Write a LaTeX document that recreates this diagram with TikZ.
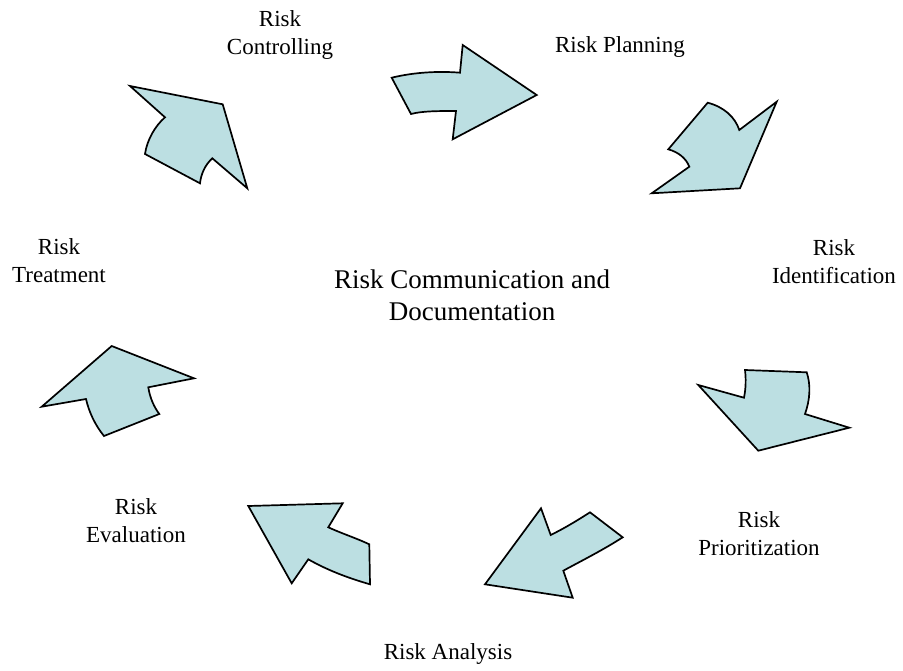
\documentclass[tikz,border=0pt]{standalone}
\usepackage{fontspec}
\setmainfont{Liberation Serif}
\definecolor{arrowfill}{RGB}{188,223,226}
\tikzset{
  arrowshape/.style={draw=black, line width=1.7pt, fill=arrowfill, line join=miter},
  lbl/.style={align=center, anchor=base, inner sep=0pt, font=\fontsize{23}{28}\selectfont},
  biglbl/.style={align=center, anchor=base, inner sep=0pt, font=\fontsize{27}{32}\selectfont}
}
\begin{document}
\begin{tikzpicture}[x=1pt,y=-1pt]
\useasboundingbox (0,0) rectangle (903,670);
% arrows
\path[arrowshape] (391.7,77.7) .. controls (415,72) and (440,71) .. (460,72.7) -- (462.7,45) -- (536.7,95) -- (452.7,139.3) -- (456,111) .. controls (438,111) and (422,111) .. (411,114) -- cycle;
\path[arrowshape] (707.7,102.7) .. controls (724,107) and (735,117) .. (739.3,130) -- (776.7,101.7) -- (740,188.3) -- (651.7,193.3) -- (689.3,166.7) .. controls (686,158) and (678,152) .. (668.3,149.3) -- cycle;
\path[arrowshape] (698.3,385) -- (744,397.7) .. controls (746,388) and (746,378) .. (745,370) -- (806.7,372.3) .. controls (811,385) and (810,400) .. (805,414) -- (849.3,427.7) -- (758.3,450.7) -- cycle;
\path[arrowshape] (485,584.3) -- (541,508.3) -- (550.7,535) .. controls (565,528) and (578,520) .. (590,512.3) -- (622.7,537.3) .. controls (603,550) and (583,560) .. (563.3,570.7) -- (572.7,597.7) -- cycle;
\path[arrowshape] (248.3,506) -- (342.7,503.3) -- (328.3,527.3) .. controls (343,534) and (356,538) .. (369.3,544.3) -- (370,584.3) .. controls (348,578) and (327,570) .. (308.3,559.3) -- (291.7,583.3) -- cycle;
\path[arrowshape] (41.7,406.7) -- (111.7,346) -- (194,378.3) -- (148.3,387.3) .. controls (150,398) and (154,407) .. (159.3,414) -- (104,436) .. controls (95,425) and (89,412) .. (86,399) -- cycle;
\path[arrowshape] (130,86) -- (222.7,104.3) -- (247.3,188.3) -- (212.3,158.3) .. controls (205,165) and (201,174) .. (200,183.3) -- (145,154) .. controls (147,140) and (155,126) .. (165,117.3) -- cycle;
% labels (anchor = baseline of the last line)
\node[lbl] (controlling) at (280,54) {Risk\\Controlling};
\node[lbl] (planning) at (620,52) {Risk Planning};
\node[lbl] (identification) at (834,283) {Risk\\Identification};
\node[biglbl] (center) at (472,320) {Risk Communication and\\Documentation};
\node[lbl] (treatment) at (59,282) {Risk\\Treatment};
\node[lbl] (prioritization) at (759,555) {Risk\\Prioritization};
\node[lbl] (evaluation) at (136,542) {Risk\\Evaluation};
\node[lbl] (analysis) at (448,659) {Risk Analysis};
\end{tikzpicture}
\end{document}
